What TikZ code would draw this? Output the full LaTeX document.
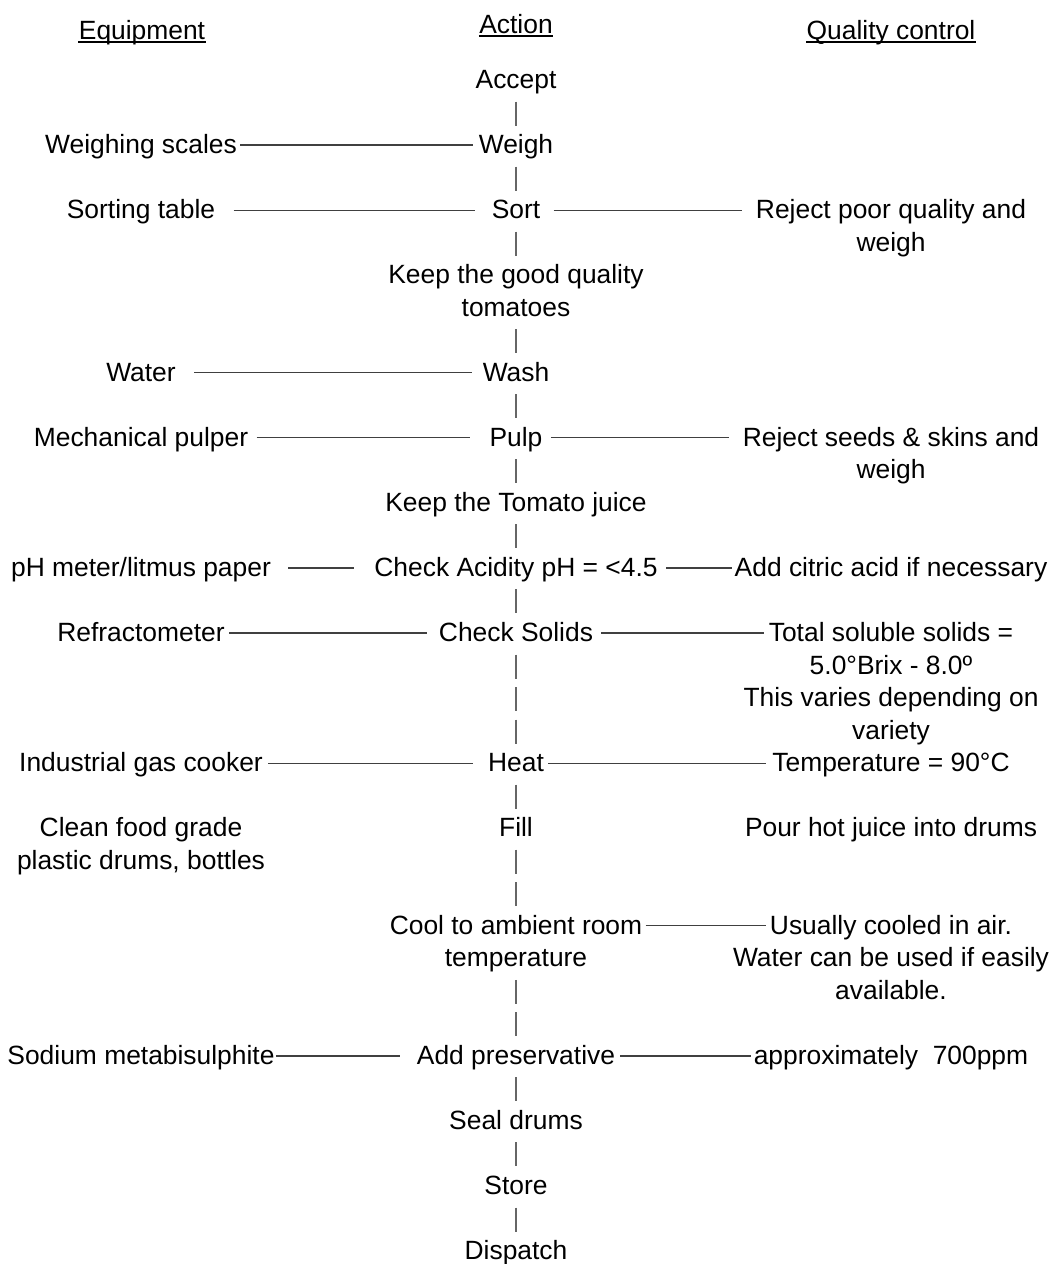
\documentclass[tikz,border=0pt]{standalone}
\usepackage{fontspec}
\setmainfont{Liberation Sans}
\newcommand\fsz{\fontsize{13.2pt}{16.27pt}\selectfont}
\tikzset{
  txt/.style={anchor=base, inner sep=0pt, font=\fsz, align=center},
  hconn/.style={draw=black!75, line width=0.6pt, transform canvas={yshift=4.25pt}},
  vconn/.style={draw=black!60, line width=0.55pt, dash pattern=on 12pt off 4.265pt, shorten <=6.5pt, shorten >=#1},
  vconn/.default=14pt,
  uline/.style={draw=black, line width=0.75pt}
}
\begin{document}
\begin{tikzpicture}[x=0.5pt,y=-0.5pt]
\useasboundingbox (0,0) rectangle (1050,1264);
% headers
\node[txt] (eqh) at (142,39) {Equipment};
\node[txt] (ach) at (516,33) {Action};
\node[txt] (qch) at (891,39) {Quality control};
\foreach \h in {eqh,ach,qch}
  \draw[uline] ([yshift=-1.6pt]\h.base west) -- ([yshift=-1.6pt]\h.base east);
% action column (multi-line nodes are placed at the baseline of their last line)
\node[txt] (accept) at (516,88.5) {Accept};
\node[txt] (weigh) at (516,153.56) {Weigh};
\node[txt] (sort) at (516,218.62) {Sort};
\node[txt] (keep) at (516,316.21) {Keep the good quality\\tomatoes};
\node[txt] (wash) at (516,381.27) {Wash};
\node[txt] (pulp) at (516,446.33) {Pulp};
\node[txt] (juice) at (516,511.39) {Keep the Tomato juice};
\node[txt] (acid) at (516,576.45) {Check Acidity pH = <4.5};
\node[txt] (solids) at (516,641.51) {Check Solids};
\node[txt] (heat) at (516,771.63) {Heat};
\node[txt] (fill) at (516,836.69) {Fill};
\node[txt] (cool) at (516,966.81) {Cool to ambient room\\temperature};
\node[txt] (pres) at (516,1064.4) {Add preservative};
\node[txt] (seal) at (516,1129.46) {Seal drums};
\node[txt] (store) at (516,1194.52) {Store};
\node[txt] (dispatch) at (516,1259.58) {Dispatch};
% equipment column
\node[txt] (scales) at (141,153.56) {Weighing scales};
\node[txt] (table) at (141,218.62) {Sorting table};
\node[txt] (water) at (141,381.27) {Water};
\node[txt] (pulper) at (141,446.33) {Mechanical pulper};
\node[txt] (phm) at (141,576.45) {pH meter/litmus paper};
\node[txt] (refr) at (141,641.51) {Refractometer};
\node[txt] (cooker) at (141,771.63) {Industrial gas cooker};
\node[txt] (drums) at (141,869.22) {Clean food grade\\plastic drums, bottles};
\node[txt] (sodium) at (141,1064.4) {Sodium metabisulphite};
% quality column
\node[txt] (rejpoor) at (891,251.15) {Reject poor quality and\\weigh};
\node[txt] (rejseeds) at (891,478.86) {Reject seeds \& skins and\\weigh};
\node[txt] (citric) at (891,576.45) {Add citric acid if necessary};
\node[txt] (tss) at (891,739.1) {Total soluble solids =\\5.0°Brix - 8.0º\\This varies depending on\\variety};
\node[txt] (temp) at (891,771.63) {Temperature = 90°C};
\node[txt] (pour) at (891,836.69) {Pour hot juice into drums};
\node[txt] (usually) at (891,999.34) {Usually cooled in air.\\Water can be used if easily\\available.};
\node[txt] (ppm) at (891,1064.4) {approximately~~700ppm};
\coordinate (coolfirst) at ([yshift=16.27pt]cool.base east);
% vertical connectors
\draw[vconn] (accept.base) -- (weigh.base);
\draw[vconn] (weigh.base) -- (sort.base);
\draw[vconn=30.27pt] (sort.base) -- (keep.base);
\draw[vconn] (keep.base) -- (wash.base);
\draw[vconn] (wash.base) -- (pulp.base);
\draw[vconn] (pulp.base) -- (juice.base);
\draw[vconn] (juice.base) -- (acid.base);
\draw[vconn] (acid.base) -- (solids.base);
\draw[vconn] (solids.base) -- (heat.base);
\draw[vconn] (heat.base) -- (fill.base);
\draw[vconn=30.27pt] (fill.base) -- (cool.base);
\draw[vconn] (cool.base) -- (pres.base);
\draw[vconn] (pres.base) -- (seal.base);
\draw[vconn] (seal.base) -- (store.base);
\draw[vconn] (store.base) -- (dispatch.base);
% horizontal connectors
\draw[hconn, shorten <=1.5pt, shorten >=2.5pt] (scales.base east) -- (weigh.base west);
\draw[hconn, shorten <=9pt, shorten >=8pt] (table.base east) -- (sort.base west);
\draw[hconn, shorten <=6.5pt, shorten >=7pt] (sort.base east) -- (rejpoor.base west |- sort.base east);
\draw[hconn, shorten <=9pt, shorten >=5pt] (water.base east) -- (wash.base west);
\draw[hconn, shorten <=4pt, shorten >=9.5pt] (pulper.base east) -- (pulp.base west);
\draw[hconn, shorten <=4pt, shorten >=6.5pt] (pulp.base east) -- (rejseeds.base west |- pulp.base east);
\draw[hconn, shorten <=8.5pt, shorten >=10pt] (phm.base east) -- (acid.base west);
\draw[hconn, shorten <=4pt, shorten >=1pt] (acid.base east) -- (citric.base west);
\draw[hconn, shorten <=2pt, shorten >=6pt] (refr.base east) -- (solids.base west);
\draw[hconn, shorten <=4pt, shorten >=-10.5pt] (solids.base east) -- (tss.base west |- solids.base east);
\draw[hconn, shorten <=2.5pt, shorten >=7.5pt] (cooker.base east) -- (heat.base west);
\draw[hconn, shorten <=2pt, shorten >=3pt] (heat.base east) -- (temp.base west);
\draw[hconn, shorten <=1.5pt, shorten >=-16.5pt] (coolfirst) -- (usually.base west |- coolfirst);
\draw[hconn, shorten <=0.5pt, shorten >=8.5pt] (sodium.base east) -- (pres.base west);
\draw[hconn, shorten <=2.5pt, shorten >=1pt] (pres.base east) -- (ppm.base west);
\end{tikzpicture}
\end{document}
